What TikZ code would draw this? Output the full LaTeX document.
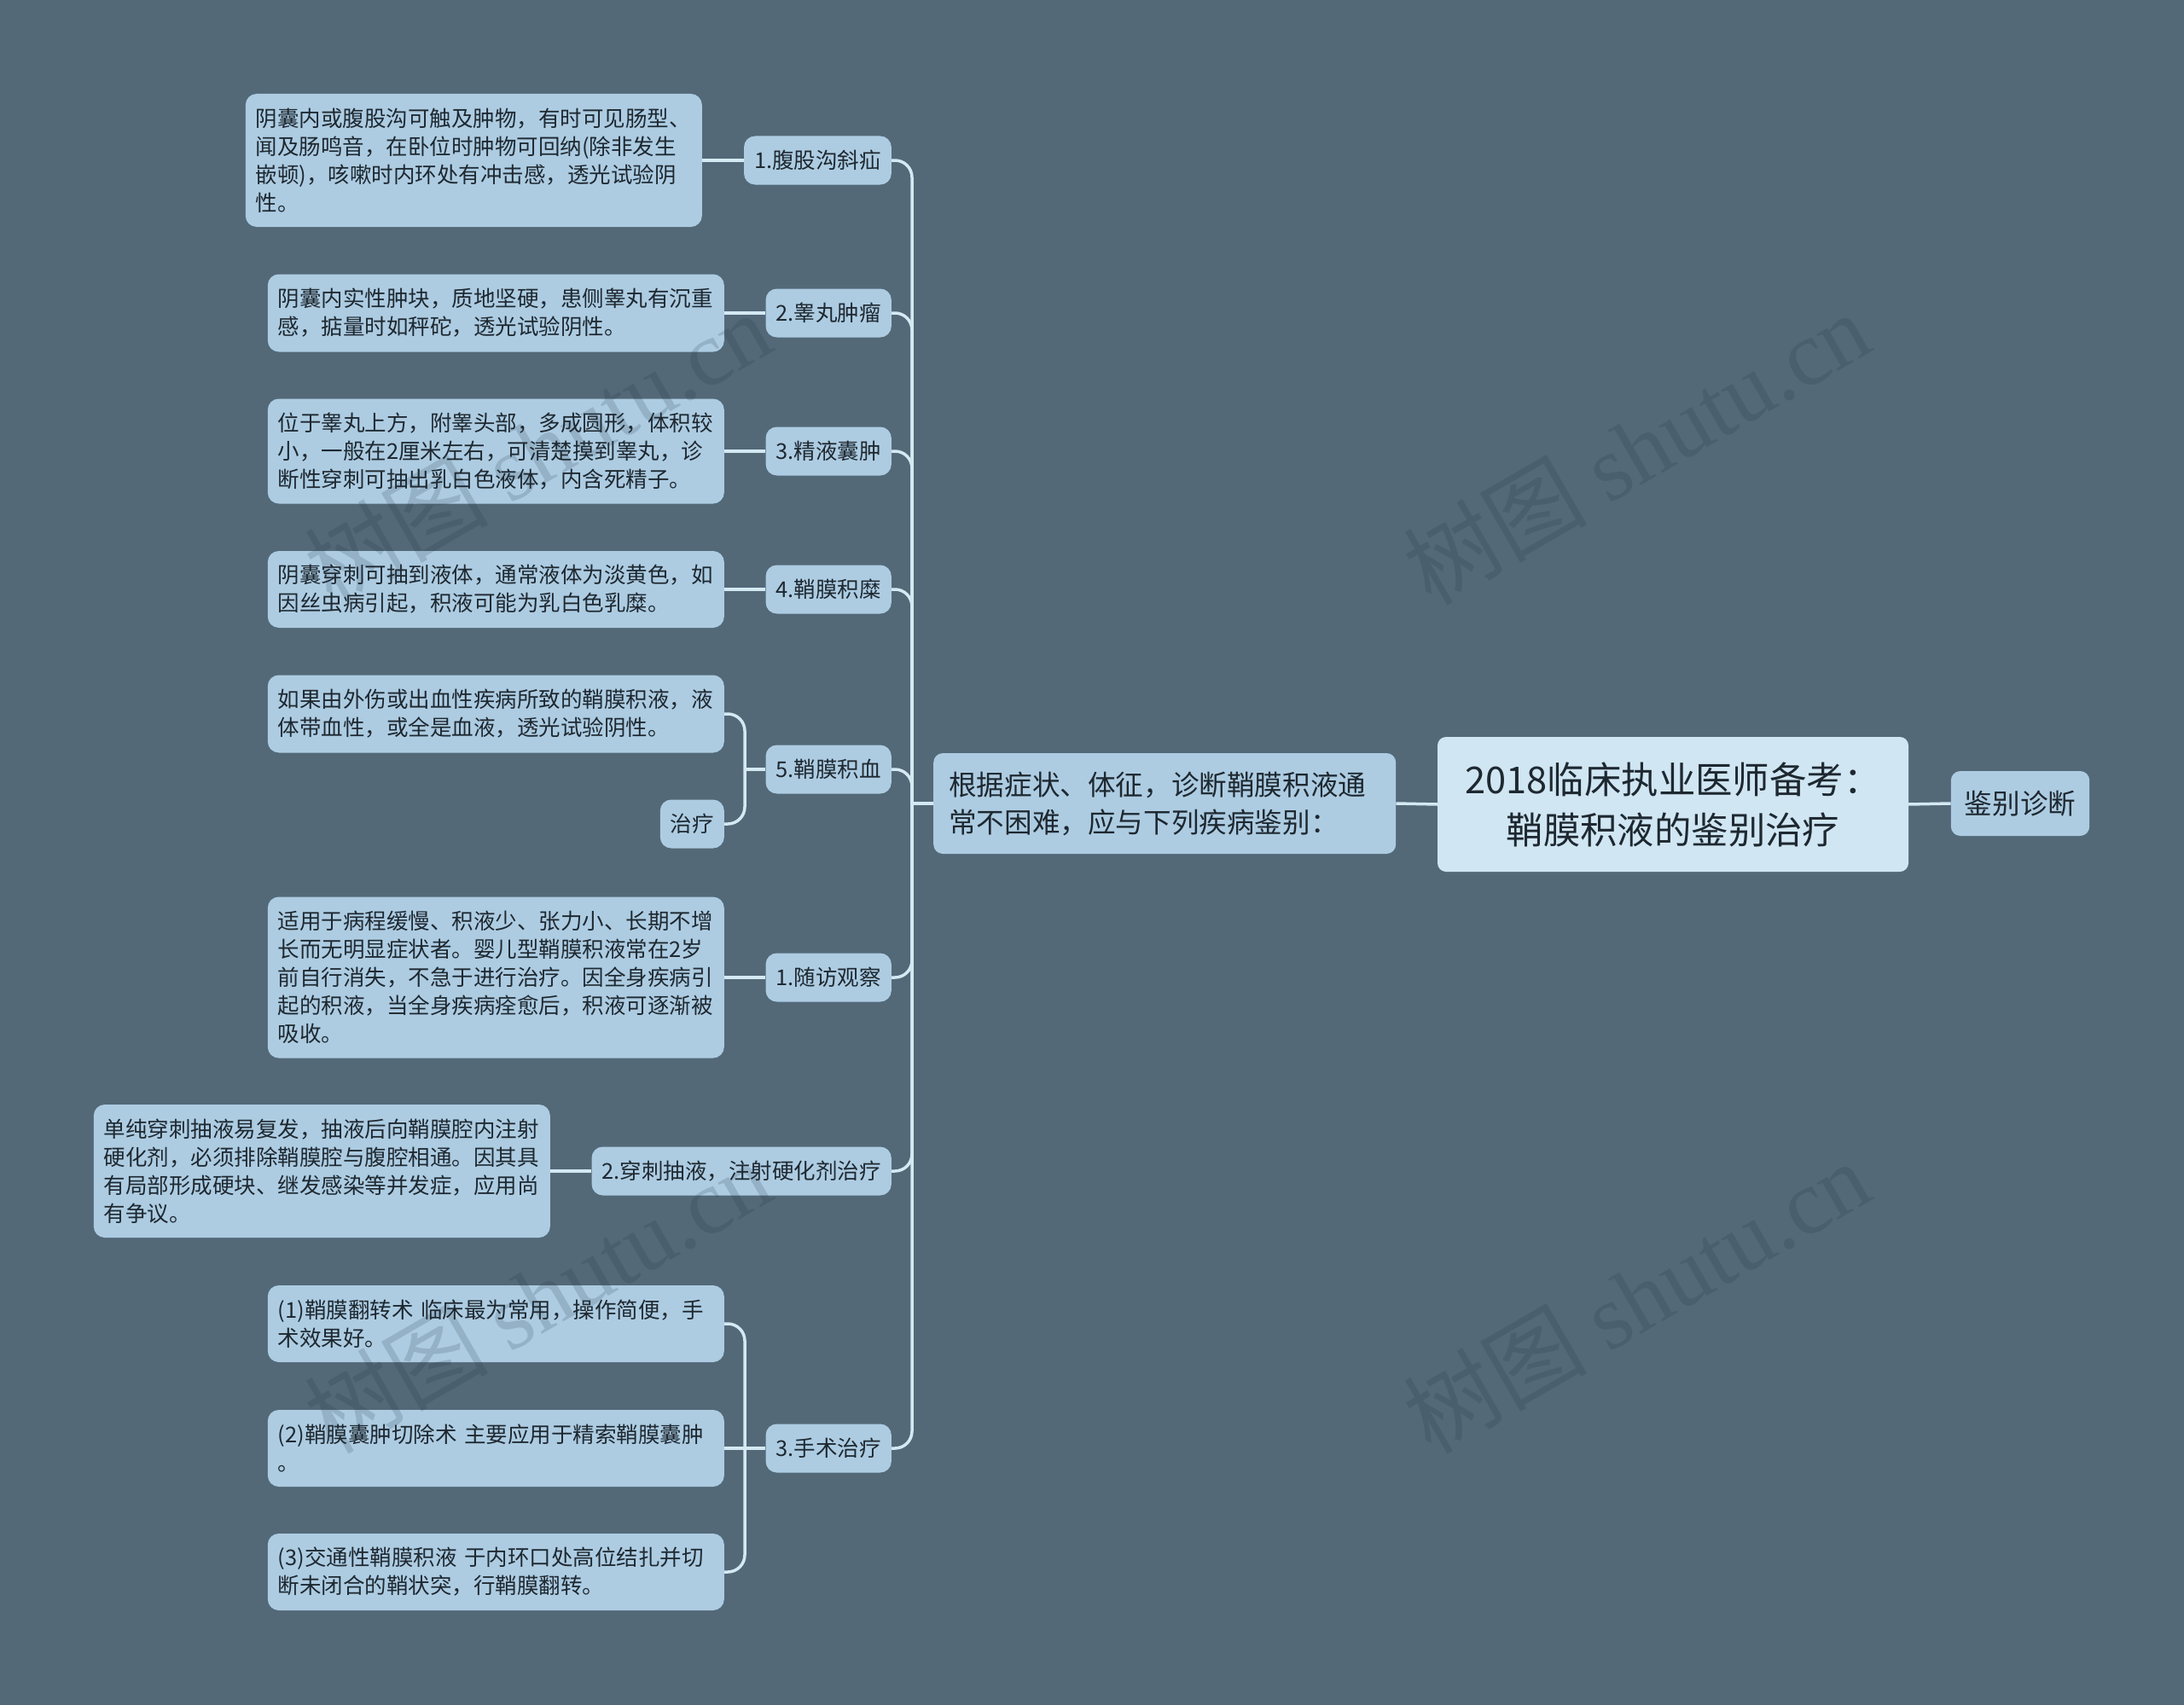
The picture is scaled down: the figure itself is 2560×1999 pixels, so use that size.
\documentclass[tikz,border=0pt]{standalone}
\usepackage{fontspec}
\setmainfont{Noto Sans CJK SC}
\newfontfamily\wmlat{Liberation Serif}
\usetikzlibrary{calc}
\definecolor{bgc}{HTML}{536978}
\definecolor{nodec}{HTML}{ADCCE2}
\definecolor{rootc}{HTML}{D0E6F3}
\definecolor{linec}{HTML}{D5E9F3}
\definecolor{txtc}{HTML}{1E2830}
\definecolor{wmc}{HTML}{1E3040}
\begin{document}
\begin{tikzpicture}[x=1pt,y=-1pt,
  leaf/.style={fill=nodec, rounded corners=13pt, text=txtc,
    font=\fontsize{25.5}{33}\selectfont, text width=511pt, align=left,
    inner xsep=12pt, inner ysep=0pt, anchor=east},
  small/.style={fill=nodec, rounded corners=13pt, text=txtc,
    font=\fontsize{25.5}{33}\selectfont, inner xsep=12pt, inner ysep=0pt,
    minimum height=57pt, anchor=east},
  conn/.style={draw=linec, line width=3.5pt, rounded corners=20pt},
  wm/.style={text=wmc, text opacity=0.17, font=\fontsize{108}{108}\selectfont, rotate=30, inner sep=0pt}]
\fill[bgc] (0,0) rectangle (2560,1999);
\useasboundingbox (0,0) rectangle (2560,1999);
% root and right
\node[fill=rootc, rounded corners=10pt, text=txtc, align=center,
  font=\fontsize{43.4}{59}\selectfont, minimum width=552pt, minimum height=158pt,
  inner sep=0pt] (root) at (1961,943) {2018临床执业医师备考：\\鞘膜积液的鉴别治疗};
\node[fill=nodec, rounded corners=11pt, text=txtc,
  font=\fontsize{32.6}{44}\selectfont, minimum height=76pt, inner xsep=16pt,
  inner ysep=0pt] (jb) at (2368,942) {鉴别诊断};
\node[fill=nodec, rounded corners=11pt, text=txtc, align=left, text width=506pt,
  font=\fontsize{32.6}{44}\selectfont, minimum height=118pt, inner xsep=18pt,
  inner ysep=0pt, anchor=west] (mid) at (1094,942)
  {根据症状、体征，诊断鞘膜积液通\\常不困难，应与下列疾病鉴别：};
% level 2
\node[small] (n1) at (1045,188) {1.腹股沟斜疝};
\node[small] (n2) at (1045,367) {2.睾丸肿瘤};
\node[small] (n3) at (1045,529) {3.精液囊肿};
\node[small] (n4) at (1045,691) {4.鞘膜积糜};
\node[small] (n5) at (1045,902) {5.鞘膜积血};
\node[small] (n6) at (1045,1146) {1.随访观察};
\node[small] (n7) at (1045,1373) {2.穿刺抽液，注射硬化剂治疗};
\node[small] (n8) at (1045,1698) {3.手术治疗};
% leaves
\node[leaf, minimum height=156pt] (t1) at (823,188)
  {阴囊内或腹股沟可触及肿物，有时可见肠型、\\闻及肠鸣音，在卧位时肿物可回纳(除非发生\\嵌顿)，咳嗽时内环处有冲击感，透光试验阴\\性。};
\node[leaf, minimum height=91pt] (t2) at (849,367)
  {阴囊内实性肿块，质地坚硬，患侧睾丸有沉重\\感，掂量时如秤砣，透光试验阴性。};
\node[leaf, minimum height=123pt] (t3) at (849,529)
  {位于睾丸上方，附睾头部，多成圆形，体积较\\小，一般在2厘米左右，可清楚摸到睾丸，诊\\断性穿刺可抽出乳白色液体，内含死精子。};
\node[leaf, minimum height=90pt] (t4) at (849,691)
  {阴囊穿刺可抽到液体，通常液体为淡黄色，如\\因丝虫病引起，积液可能为乳白色乳糜。};
\node[leaf, minimum height=91pt] (t5a) at (849,837)
  {如果由外伤或出血性疾病所致的鞘膜积液，液\\体带血性，或全是血液，透光试验阴性。};
\node[small] (t5b) at (849,966) {治疗};
\node[leaf, minimum height=189pt] (t6) at (849,1146)
  {适用于病程缓慢、积液少、张力小、长期不增\\长而无明显症状者。婴儿型鞘膜积液常在2岁\\前自行消失，不急于进行治疗。因全身疾病引\\起的积液，当全身疾病痊愈后，积液可逐渐被\\吸收。};
\node[leaf, minimum height=156pt] (t7) at (645,1373)
  {单纯穿刺抽液易复发，抽液后向鞘膜腔内注射\\硬化剂，必须排除鞘膜腔与腹腔相通。因其具\\有局部形成硬块、继发感染等并发症，应用尚\\有争议。};
\node[leaf, minimum height=90pt] (t8a) at (849,1552)
  {(1)鞘膜翻转术 临床最为常用，操作简便，手\\术效果好。};
\node[leaf, minimum height=90pt] (t8b) at (849,1698)
  {(2)鞘膜囊肿切除术 主要应用于精索鞘膜囊肿\\。};
\node[leaf, minimum height=90pt] (t8c) at (849,1843)
  {(3)交通性鞘膜积液 于内环口处高位结扎并切\\断未闭合的鞘状突，行鞘膜翻转。};
% connectors
\coordinate (tr) at (1069,942);
\coordinate (e5) at (873,902);
\coordinate (e8) at (873,1698);
\foreach \n in {n1,n2,n3,n4,n5,n6,n7,n8}{
  \draw[conn] (\n.east) -| (tr);
}
\draw[conn] (tr) -- (mid.west);
\draw[conn] (mid.east) -- (root.west);
\draw[conn] (root.east) -- (jb.west);
\draw[conn] (t1.east) -- (n1.west);
\draw[conn] (t2.east) -- (n2.west);
\draw[conn] (t3.east) -- (n3.west);
\draw[conn] (t4.east) -- (n4.west);
\draw[conn] (n5.west) -- (e5);
\draw[conn] (e5) |- (t5a.east);
\draw[conn] (e5) |- (t5b.east);
\draw[conn] (t6.east) -- (n6.west);
\draw[conn] (t7.east) -- (n7.west);
\draw[conn] (t8b.east) -- (n8.west);
\draw[conn] (e8) |- (t8a.east);
\draw[conn] (e8) |- (t8c.east);
% watermarks (overlaid, faint)
\node[wm] (w1) at (630,525) {树图 {\wmlat shutu.cn}};
\node[wm] (w2) at (1918,525) {树图 {\wmlat shutu.cn}};
\node[wm] (w3) at (630,1520) {树图 {\wmlat shutu.cn}};
\node[wm] (w4) at (1918,1520) {树图 {\wmlat shutu.cn}};
\end{tikzpicture}
\end{document}
